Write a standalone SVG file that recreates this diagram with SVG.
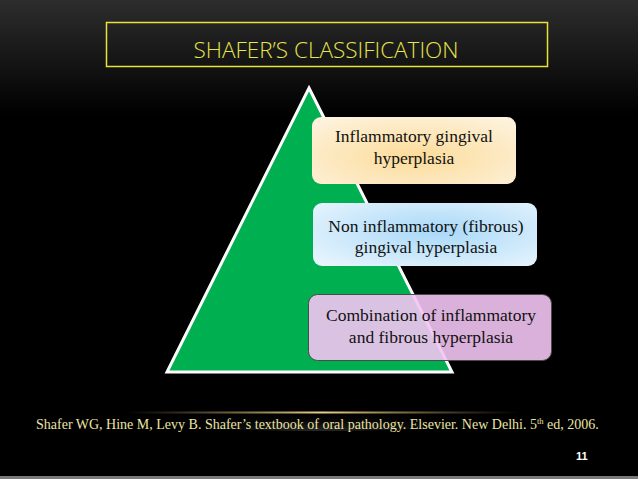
<svg xmlns="http://www.w3.org/2000/svg" width="638" height="479" viewBox="0 0 638 479">
<defs>
<linearGradient id="bg" x1="0" y1="0" x2="0" y2="1">
<stop offset="0" stop-color="#2d2d2d"/>
<stop offset="0.24" stop-color="#000000"/>
<stop offset="1" stop-color="#000000"/>
</linearGradient>
<radialGradient id="g1" cx="0.5" cy="0.6" r="0.7">
<stop offset="0" stop-color="#fcdb98"/>
<stop offset="1" stop-color="#fdf2dc"/>
</radialGradient>
<radialGradient id="g2" cx="0.55" cy="0.45" r="0.7">
<stop offset="0" stop-color="#a8d8f8"/>
<stop offset="1" stop-color="#e6f4fd"/>
</radialGradient>
<linearGradient id="gl" x1="0" y1="0" x2="1" y2="0">
<stop offset="0" stop-color="#b09050" stop-opacity="0"/>
<stop offset="0.5" stop-color="#e8cf8a" stop-opacity="1"/>
<stop offset="1" stop-color="#b09050" stop-opacity="0"/>
</linearGradient>
<radialGradient id="glow" cx="0.5" cy="1" r="0.5">
<stop offset="0" stop-color="#3a3a3a" stop-opacity="0.7"/>
<stop offset="1" stop-color="#000" stop-opacity="0"/>
</radialGradient>
</defs>
<style>
.bt{font-family:"Liberation Serif","Times New Roman",serif;font-size:17.5px;fill:#111;text-anchor:middle}
</style>
<rect width="638" height="479" fill="url(#bg)"/>
<rect x="0" y="476" width="638" height="3" fill="#7a7a7a"/>
<g id="title">
<rect x="106.5" y="22.5" width="441" height="44" fill="none" stroke="#e8e23c" stroke-width="1.5"/>
<text x="326" y="58" font-family="'Open Sans','Liberation Sans',sans-serif" font-size="22.5" fill="#e8e64a" text-anchor="middle" font-weight="300">SHAFER’S CLASSIFICATION</text>
</g>
<g id="pyramid">
<polygon points="309,88 452,372 167,372" fill="#00b050" stroke="#ffffff" stroke-width="3" stroke-linejoin="miter"/>
</g>
<g id="box1">
<rect x="312" y="117" width="204" height="67" rx="9" fill="url(#g1)"/>
<text class="bt" x="414" y="142">Inflammatory gingival</text>
<text class="bt" x="414" y="164">hyperplasia</text>
</g>
<g id="box2">
<rect x="313" y="203" width="224" height="63" rx="9" fill="url(#g2)"/>
<text class="bt" x="426" y="232">Non inflammatory (fibrous)</text>
<text class="bt" x="426" y="253">gingival hyperplasia</text>
</g>
<g id="box3">
<rect x="308.5" y="294.5" width="243" height="66" rx="9" fill="#f2c4f2" fill-opacity="0.9" stroke="#4a4a4a" stroke-width="1"/>
<text class="bt" x="431" y="321">Combination of inflammatory</text>
<text class="bt" x="431" y="343">and fibrous hyperplasia</text>
</g>
<g id="footer">
<ellipse cx="320" cy="413" rx="200" ry="18" fill="url(#glow)"/>
<rect x="125" y="411.5" width="395" height="2" fill="url(#gl)"/>
<text x="36" y="429" font-family="'Liberation Serif','Times New Roman',serif" font-size="14" fill="#ece4a4">Shafer WG, Hine M, Levy B. Shafer’s textbook of oral pathology. Elsevier. New Delhi. 5<tspan font-size="8.5" dy="-5">th</tspan><tspan dy="5"> ed, 2006.</tspan></text>
</g>
<text x="576" y="460" font-family="'Liberation Sans',Arial,sans-serif" font-size="11" font-weight="bold" fill="#ffffff">11</text>
</svg>
